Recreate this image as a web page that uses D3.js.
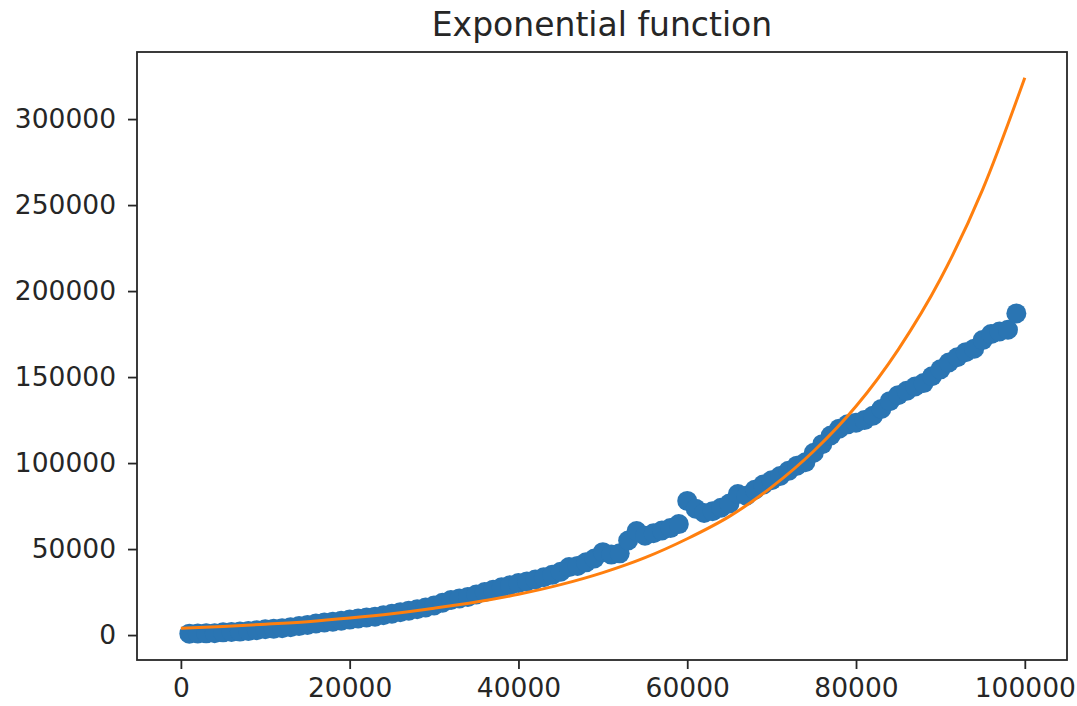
<!DOCTYPE html>
<html>
<head>
<meta charset="utf-8">
<script src="https://cdn.jsdelivr.net/npm/d3@7"></script>
<style>
  html, body { margin: 0; padding: 0; background: #fff; }
  svg { display: block; }
</style>
</head>
<body>
<div id="chart"></div>
<script>
// observed points (x, y)
const obsX = [
  1000, 2000, 3000, 4000, 5000, 6000, 7000, 8000, 9000, 10000,
  11000, 12000, 13000, 14000, 15000, 16000, 17000, 18000, 19000, 20000,
  21000, 22000, 23000, 24000, 25000, 26000, 27000, 28000, 29000, 30000,
  31000, 32000, 33000, 34000, 35000, 36000, 37000, 38000, 39000, 40000,
  41000, 42000, 43000, 44000, 45000, 46000, 47000, 48000, 49000, 50000,
  51000, 52000, 53000, 54000, 55000, 56000, 57000, 58000, 59000, 60000,
  61000, 62000, 63000, 64000, 65000, 66000, 67000, 68000, 69000, 70000,
  71000, 72000, 73000, 74000, 75000, 76000, 77000, 78000, 79000, 80000,
  81000, 82000, 83000, 84000, 85000, 86000, 87000, 88000, 89000, 90000,
  91000, 92000, 93000, 94000, 95000, 96000, 97000, 98000, 99000
];
const obsY = [
  800, 900, 1000, 1100, 1600, 1800, 2000, 2300, 2800, 3400,
  3700, 4000, 4600, 5200, 5900, 6700, 7300, 7800, 8300, 9000,
  9600, 10200, 10700, 11500, 12400, 13300, 14200, 15000, 16000, 17200,
  18800, 20400, 21300, 22200, 23600, 25000, 26400, 27800, 29000, 30200,
  31200, 32300, 33600, 35000, 36800, 39500, 40200, 42300, 44500, 48200,
  46800, 47500, 55000, 60500, 57800, 59200, 60800, 62200, 64500, 78000,
  73500, 71000, 72000, 74000, 76500, 82000, 81000, 84500, 87500, 90000,
  92500, 95500, 98500, 100500, 106000, 111000, 116000, 120000, 122500, 123500,
  125000, 127500, 131500, 136000, 139500, 142000, 144500, 146500, 150500, 154500,
  158500, 161500, 164500, 166500, 171500, 175000, 176500, 177500, 187000
];

// fitted curve
const fitX = [0, 5000, 10000, 15000, 20000, 25000, 30000, 35000, 40000, 45000,
  50000, 55000, 60000, 65000, 70000, 75000, 80000, 85000, 90000, 95000, 100000];
const fitY = [4000, 5000, 6300, 7800, 9900, 12400, 15600, 19200, 23700, 29300,
  36300, 45000, 56000, 69000, 86000, 107000, 133000, 166000, 207000, 259000, 324000];

const xTicks = [0, 20000, 40000, 60000, 80000, 100000];
const yTicks = [0, 50000, 100000, 150000, 200000, 250000, 300000];

const titleText = "Exponential function";

function main() {
  const width = 1077;
  const height = 706;
  const plot = { l: 137, r: 1067, t: 52, b: 660 };
  const textColor = "#262626";
  const font = "'DejaVu Sans', sans-serif";

  const svg = d3
    .create("svg")
    .attr("width", width)
    .attr("height", height);

  const x = d3.scaleLinear().domain([-5200, 105000]).range([plot.l, plot.r]);
  const y = d3.scaleLinear().domain([-14500, 339000]).range([plot.b, plot.t]);

  // clip to the axes box
  svg
    .append("clipPath")
    .attr("id", "clip")
    .append("rect")
    .attr("x", plot.l)
    .attr("y", plot.t)
    .attr("width", plot.r - plot.l)
    .attr("height", plot.b - plot.t);

  const body = svg.append("g").attr("clip-path", "url(#clip)");

  const obs = obsX.map((d, i) => ({ x: d, y: obsY[i] }));
  body
    .append("g")
    .selectAll("circle")
    .data(obs)
    .join("circle")
    .attr("cx", (d) => x(d.x))
    .attr("cy", (d) => y(d.y))
    .attr("r", 10)
    .attr("fill", "#2a75b3");

  const fit = fitX.map((d, i) => ({ x: d, y: fitY[i] }));
  const line = d3
    .line()
    .x((d) => x(d.x))
    .y((d) => y(d.y))
    .curve(d3.curveMonotoneX);

  body
    .append("path")
    .datum(fit)
    .attr("fill", "none")
    .attr("stroke", "#ff7f0e")
    .attr("stroke-width", 3)
    .attr("d", line);

  // axes
  const xAxis = svg
    .append("g")
    .attr("transform", `translate(0, ${plot.b})`)
    .call(d3.axisBottom(x).tickValues(xTicks).tickFormat(d3.format("d")).tickSize(9).tickPadding(9));
  const yAxis = svg
    .append("g")
    .attr("transform", `translate(${plot.l}, 0)`)
    .call(d3.axisLeft(y).tickValues(yTicks).tickFormat(d3.format("d")).tickSize(9).tickPadding(12));

  [xAxis, yAxis].forEach((a) => {
    a.select(".domain").remove();
    a.selectAll(".tick line").attr("stroke", textColor).attr("stroke-width", 1.8);
    a.selectAll(".tick text")
      .attr("fill", textColor)
      .style("font-family", font)
      .style("font-size", "26.5px");
  });

  svg
    .append("rect")
    .attr("x", plot.l)
    .attr("y", plot.t)
    .attr("width", plot.r - plot.l)
    .attr("height", plot.b - plot.t)
    .attr("fill", "none")
    .attr("stroke", textColor)
    .attr("stroke-width", 1.8);

  svg
    .append("text")
    .attr("x", (plot.l + plot.r) / 2)
    .attr("y", 36)
    .attr("text-anchor", "middle")
    .attr("fill", textColor)
    .style("font-family", font)
    .style("font-size", "33px")
    .text(titleText);

  d3.select("#chart").node().appendChild(svg.node());
}

main();
</script>
</body>
</html>
